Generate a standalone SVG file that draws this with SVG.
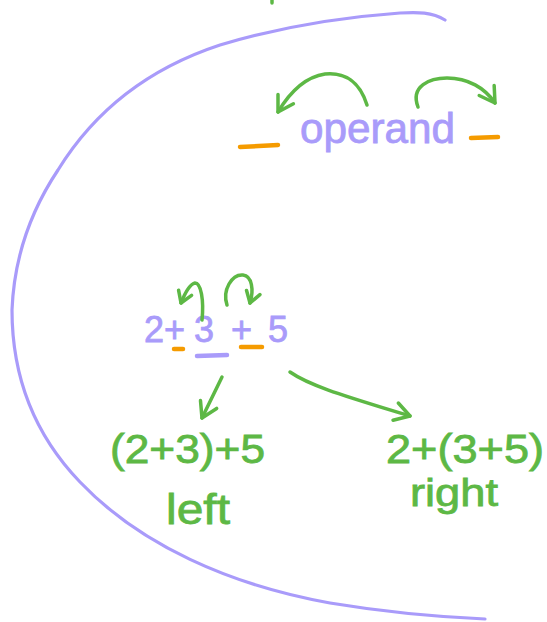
<svg xmlns="http://www.w3.org/2000/svg" width="547" height="622" viewBox="0 0 547 622">
<style>
.p{fill:none;stroke:#a99bfa;stroke-linecap:round;stroke-linejoin:round}
.g{fill:none;stroke:#5db845;stroke-width:3.5;stroke-linecap:round;stroke-linejoin:round}
.o{fill:none;stroke:#f59b00;stroke-width:4.5;stroke-linecap:round}
.tp{fill:#a99bfa;stroke:#a99bfa;stroke-width:0.8;font-family:"Liberation Sans",Arial,sans-serif}
.tg{fill:#5db845;stroke:#5db845;stroke-width:0.8;font-family:"Liberation Sans",Arial,sans-serif}
</style>
<defs>
<marker id="head" markerUnits="userSpaceOnUse" markerWidth="30" markerHeight="30" refX="0" refY="0" orient="auto" overflow="visible" viewBox="-20 -15 30 30">
<path d="M-15,-9 L0,0 L-15,9" fill="none" stroke="#5db845" stroke-width="3.5" stroke-linecap="round" stroke-linejoin="round"/>
</marker>
<marker id="heads" markerUnits="userSpaceOnUse" markerWidth="30" markerHeight="30" refX="0" refY="0" orient="auto" overflow="visible" viewBox="-20 -15 30 30">
<path d="M-11,-7 L0,0 L-11,7" fill="none" stroke="#5db845" stroke-width="3.5" stroke-linecap="round" stroke-linejoin="round"/>
</marker>
</defs>
<rect width="547" height="622" fill="#ffffff"/>
<path class="p" stroke-width="3.2" d="M445,20 C432,12 418,12 400,13 C330,18 270,30 220,45 C150,68 95,110 58,170 C28,215 14,260 12,310 C12,370 30,430 80,482 C140,545 230,585 330,603 C390,613 440,617 485,619"/>
<path class="g" stroke-width="3" d="M272,0 L272,3"/>
<g id="operand">
<text class="tp" x="300" y="143" font-size="42" textLength="155" lengthAdjust="spacingAndGlyphs">operand</text>
<path class="o" d="M240,147 L278,145"/>
<path class="o" d="M471,138 L498,137"/>
</g>
<g id="expression">
<text class="tp" y="342" font-size="36"><tspan x="144">2</tspan><tspan x="164">+</tspan><tspan x="194">3</tspan><tspan x="231">+</tspan><tspan x="268">5</tspan></text>
<path class="o" d="M174,349 L183,349"/>
<path class="o" d="M241,347 L262,347"/>
<path class="p" stroke-width="4.5" d="M197,356 L227,355"/>
</g>
<g id="left">
<text class="tg" x="110" y="463" font-size="40" textLength="155" lengthAdjust="spacingAndGlyphs">(2+3)+5</text>
<text class="tg" x="166" y="524" font-size="43" textLength="64" lengthAdjust="spacingAndGlyphs">left</text>
</g>
<g id="right">
<text class="tg" x="386" y="463" font-size="40" textLength="158" lengthAdjust="spacingAndGlyphs">2+(3+5)</text>
<text class="tg" x="410" y="506" font-size="38" textLength="88" lengthAdjust="spacingAndGlyphs">right</text>
</g>
<g id="connectors">
<path class="g" marker-end="url(#head)" d="M367,105 C360,82 345,72 325,74 C305,77 290,92 278,112"/>
<path class="g" marker-end="url(#head)" d="M418,107 C410,86 430,78 447,78 C468,78 485,88 495,103"/>
<path class="g" marker-end="url(#heads)" d="M202,320 C204,300 201,283 195,283 C190,284 185,293 181,303"/>
<path class="g" marker-end="url(#heads)" d="M227,305 C222,290 232,274 243,275 C252,276 254,290 250,303"/>
<path class="g" marker-end="url(#head)" d="M222,377 L202,418"/>
<path class="g" marker-end="url(#head)" d="M290,372 C310,386 345,396 410,416"/>
</g>
</svg>
